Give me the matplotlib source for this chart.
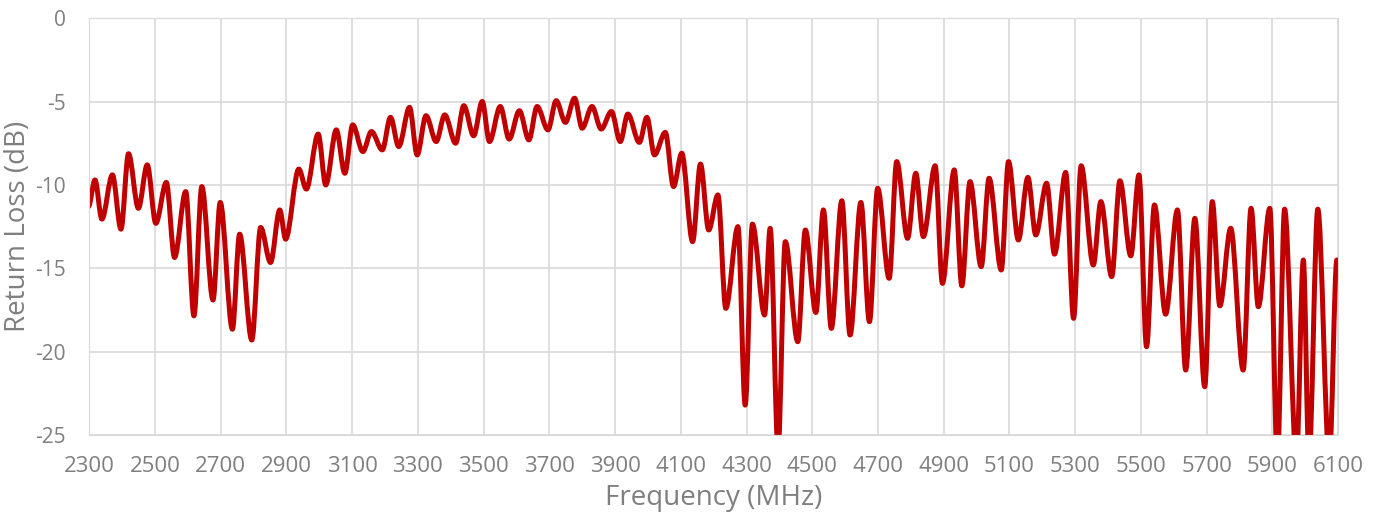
import matplotlib.pyplot as plt
from matplotlib.path import Path
from matplotlib.patches import PathPatch

freq = [2298, 2318, 2339, 2371, 2397, 2420, 2450, 2477, 2503, 2535,
        2560, 2594, 2619, 2643, 2677, 2699, 2736, 2758, 2795, 2822,
        2852, 2880, 2898, 2938, 2961, 2997, 3020, 3052, 3078, 3102,
        3133, 3159, 3192, 3217, 3242, 3275, 3298, 3325, 3356, 3382,
        3415, 3440, 3470, 3496, 3518, 3551, 3578, 3609, 3638, 3663,
        3696, 3721, 3749, 3777, 3800, 3830, 3858, 3889, 3916, 3939,
        3974, 3997, 4020, 4053, 4078, 4103, 4136, 4160, 4185, 4213,
        4237, 4274, 4296, 4318, 4355, 4372, 4396, 4418, 4456, 4479,
        4511, 4534, 4558, 4590, 4615, 4648, 4674, 4699, 4734, 4757,
        4790, 4815, 4838, 4874, 4896, 4932, 4955, 4980, 5014, 5038,
        5075, 5097, 5127, 5156, 5180, 5213, 5237, 5271, 5295, 5318,
        5355, 5378, 5411, 5436, 5469, 5494, 5517, 5541, 5575, 5611,
        5636, 5664, 5694, 5717, 5740, 5773, 5811, 5835, 5857, 5892,
        5915, 5937, 5973, 5994, 6011, 6038, 6073, 6096]
rl = [-11.3, -9.7, -12.05, -9.4, -12.65, -8.13, -11.4, -8.8, -12.3, -9.85,
      -14.35, -10.4, -17.85, -10.1, -16.9, -11.05, -18.65, -12.95, -19.3, -12.55,
      -14.65, -11.5, -13.25, -9.05, -10.25, -6.95, -10.0, -6.7, -9.3, -6.4,
      -8.0, -6.8, -7.9, -5.95, -7.7, -5.35, -8.2, -5.85, -7.4, -5.8,
      -7.5, -5.25, -7.05, -5.0, -7.4, -5.3, -7.25, -5.55, -7.3, -5.3,
      -6.7, -4.95, -6.25, -4.8, -6.6, -5.3, -6.65, -5.6, -7.4, -5.75,
      -7.45, -5.95, -8.2, -6.85, -10.1, -8.1, -13.4, -8.75, -12.7, -10.6,
      -17.4, -12.5, -23.2, -12.35, -17.8, -12.6, -25.8, -13.4, -19.4, -12.7,
      -17.65, -11.5, -18.6, -10.95, -19.0, -11.05, -18.2, -10.2, -15.6, -8.6,
      -13.2, -9.3, -13.1, -8.85, -15.9, -9.1, -16.05, -9.8, -14.9, -9.6,
      -15.1, -8.6, -13.3, -9.55, -13.0, -9.9, -14.15, -9.25, -18.0, -8.85,
      -14.8, -11.0, -15.5, -9.75, -14.25, -9.4, -19.7, -11.2, -17.75, -11.5,
      -21.1, -12.0, -22.1, -11.0, -17.25, -12.6, -21.1, -11.4, -17.3, -11.4,
      -26.5, -11.45, -26.5, -14.5, -26.5, -11.45, -26.5, -14.5]

xticks = list(range(2300, 6101, 200))
yticks = [0, -5, -10, -15, -20, -25]

plt.rcParams['font.family'] = ['Open Sans', 'DejaVu Sans']

fig = plt.figure(figsize=(13.81, 5.18), dpi=100)
ax = fig.add_axes([0.0645, 0.160, 0.9045, 0.805])

# smoothed line like a spreadsheet chart: cubic segments, flat at each turning point
verts = [(freq[0], rl[0])]
codes = [Path.MOVETO]
for i in range(1, len(freq)):
    x0, y0, x1, y1 = freq[i - 1], rl[i - 1], freq[i], rl[i]
    d = (x1 - x0) / 3
    verts += [(x0 + d, y0), (x1 - d, y1), (x1, y1)]
    codes += [Path.CURVE4] * 3
ax.add_patch(PathPatch(Path(verts, codes), fill=False, edgecolor='#C00000',
                       linewidth=3.6, joinstyle='round', capstyle='round'))

ax.set_xlim(2300, 6100)
ax.set_ylim(-25, 0)
ax.set_xticks(xticks)
ax.set_yticks(yticks)
ax.set_yticklabels([str(t) for t in yticks])
ax.grid(True, color='#d9d9d9', linewidth=1.2)
ax.set_axisbelow(True)
for s in ax.spines.values():
    s.set_color('#d9d9d9')
ax.tick_params(length=0, labelsize=16, labelcolor='#7f7f7f')
ax.tick_params(axis='x', pad=15)
ax.tick_params(axis='y', labelsize=15, pad=17)

ax.set_xlabel("Frequency (MHz)", fontsize=20, color='#7f7f7f')
ax.set_ylabel("Return Loss (dB)", fontsize=20, color='#7f7f7f')
ax.xaxis.set_label_coords(0.5, -0.151)
ax.xaxis.label.set_va('center')
ax.yaxis.set_label_coords(-0.057, 0.5)
ax.yaxis.label.set_va('center')

fig.savefig("out.png", dpi=100)
